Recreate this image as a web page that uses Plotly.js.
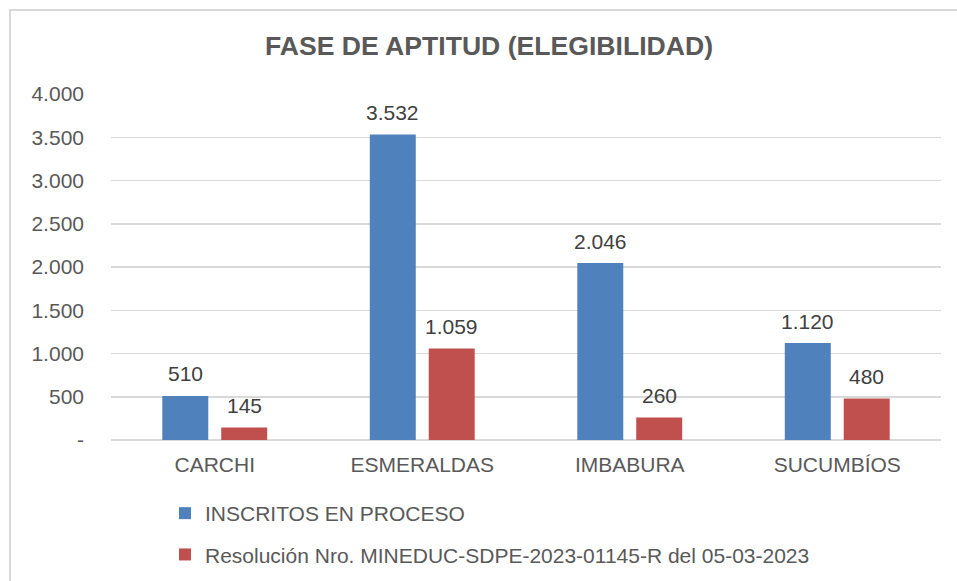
<!DOCTYPE html>
<html>
<head>
<meta charset="utf-8">
<script src="https://cdn.plot.ly/plotly-3.0.1.min.js"></script>
<style>
  html, body { margin: 0; padding: 0; background: #ffffff; overflow: hidden; }
  #chart { position: absolute; left: 0; top: 0; width: 957px; height: 581px; }
  #frame { position: absolute; left: 9px; top: 9px; width: 1000px; height: 700px;
           border: 2px solid #d9d9d9; pointer-events: none; box-sizing: border-box; }
</style>
</head>
<body>
<div id="chart"></div>
<div id="frame"></div>
<script>
const chartTitle = 'FASE DE APTITUD (ELEGIBILIDAD)';
const categories = ['CARCHI', 'ESMERALDAS', 'IMBABURA', 'SUCUMBÍOS'];
const seriesNames = ['INSCRITOS EN PROCESO', 'Resolución Nro. MINEDUC-SDPE-2023-01145-R del 05-03-2023'];
const inscritos = [510, 3532, 2046, 1120];
const resolucion = [145, 1059, 260, 480];
const yTickVals = [0, 500, 1000, 1500, 2000, 2500, 3000, 3500, 4000];
const yTickText = ['-', '500', '1.000', '1.500', '2.000', '2.500', '3.000', '3.500', '4.000'];

const colors = ['#4f81bd', '#c0504d'];
const fontFam = '"Liberation Sans", Arial, sans-serif';

function fmt(v) {
  return String(v).replace(/\B(?=(\d{3})+(?!\d))/g, '.');
}

const series = [inscritos, resolucion];
const traces = series.map((vals, i) => ({
  type: 'bar',
  name: seriesNames[i],
  x: categories,
  y: vals,
  marker: { color: colors[i] },
  legendgroup: 'g' + i,
  hoverinfo: 'x+y'
}));

const annotations = [];
series.forEach((vals, i) => {
  vals.forEach((v, j) => {
    annotations.push({
      x: categories[j], y: v, xref: 'x', yref: 'y',
      text: fmt(v), showarrow: false,
      xshift: i === 0 ? -29.5 : 29.5, yshift: 22,
      yanchor: 'middle', xanchor: 'center',
      font: { family: fontFam, size: 21, color: '#404040' }
    });
  });
});

const layout = {
  width: 957, height: 581,
  margin: { l: 111, r: 16, t: 94, b: 141, autoexpand: false },
  paper_bgcolor: '#ffffff', plot_bgcolor: '#ffffff',
  title: {
    text: '<b>' + chartTitle + '</b>',
    x: 489 / 957, xanchor: 'center', xref: 'container',
    y: 1 - 46 / 581, yanchor: 'middle', yref: 'container',
    font: { family: fontFam, size: 26.6, color: '#595959' }
  },
  barmode: 'group',
  bargap: 0.432,
  bargroupgap: 0.22,
  xaxis: {
    type: 'category',
    showgrid: false, zeroline: false, showline: false,
    ticks: '', ticklabelstandoff: 10,
    tickfont: { family: fontFam, size: 21, color: '#595959' },
    fixedrange: true
  },
  yaxis: {
    range: [0, 4000],
    tickvals: yTickVals, ticktext: yTickText,
    showgrid: true, gridcolor: '#d9d9d9', gridwidth: 1.5,
    zeroline: true, zerolinecolor: '#d9d9d9', zerolinewidth: 1.5,
    showline: false, ticks: '', ticklabelstandoff: 26,
    tickfont: { family: fontFam, size: 21, color: '#595959' },
    fixedrange: true
  },
  showlegend: true,
  legend: {
    orientation: 'v',
    xref: 'container', yref: 'container',
    x: 165 / 957, xanchor: 'left',
    y: 1 - 493 / 581, yanchor: 'top',
    tracegroupgap: 11,
    font: { family: fontFam, size: 21, color: '#595959' },
    bgcolor: 'rgba(0,0,0,0)'
  },
  annotations: annotations
};

Plotly.newPlot('chart', traces, layout, { displayModeBar: false, staticPlot: true });
</script>
</body>
</html>
